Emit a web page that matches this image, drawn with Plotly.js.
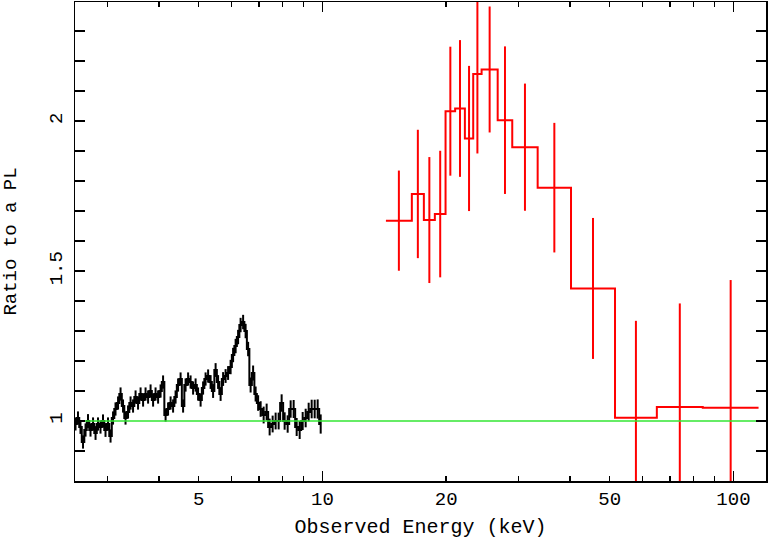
<!DOCTYPE html>
<html>
<head>
<meta charset="utf-8">
<script src="https://cdn.plot.ly/plotly-3.0.1.min.js"></script>
<style>html,body{margin:0;padding:0;background:#fff;}#chart{width:768px;height:540px;}</style>
</head>
<body>
<div id="chart"></div>
<script>
// ---- Black (soft X-ray) data: bin centres (keV), ratio, 1-sigma error
const blackE = [2.507,2.542,2.578,2.615,2.652,2.689,2.727,2.766,2.805,2.844,2.884,2.925,2.966,3.008,3.051,3.094,3.137,3.182,3.227,3.272,3.318,3.365,3.413,3.461,3.510,3.559,3.610,3.661,3.712,3.765,3.818,3.872,3.926,3.982,4.038,4.095,4.153,4.211,4.271,4.331,4.392,4.454,4.517,4.581,4.645,4.711,4.777,4.845,4.913,4.982,5.053,5.124,5.196,5.270,5.344,5.419,5.496,5.573,5.652,5.732,5.812,5.894,5.978,6.062,6.148,6.234,6.322,6.412,6.502,6.594,6.687,6.781,6.877,6.974,7.073,7.193,7.315,7.439,7.565,7.693,7.824,7.956,8.091,8.229,8.368,8.510,8.655,8.802,8.951,9.103,9.257,9.414,9.574,9.736,9.902];
const blackRatio = [0.99,1.01,0.98,0.93,0.97,1.00,0.97,0.99,0.96,0.99,0.98,1.00,0.97,0.99,0.95,1.01,1.04,1.06,1.09,1.05,1.01,1.03,1.06,1.05,1.08,1.06,1.09,1.07,1.09,1.08,1.10,1.07,1.09,1.08,1.10,1.13,1.02,1.04,1.06,1.05,1.08,1.12,1.14,1.05,1.12,1.14,1.13,1.11,1.12,1.09,1.07,1.11,1.14,1.15,1.13,1.10,1.17,1.13,1.09,1.14,1.15,1.16,1.18,1.22,1.25,1.28,1.32,1.33,1.30,1.24,1.12,1.16,1.09,1.06,1.04,1.02,1.03,0.98,0.99,1.00,1.00,1.06,1.00,0.99,1.04,1.04,0.98,0.97,1.00,1.01,1.03,1.04,1.04,1.04,0.99];
const blackErr = [0.022,0.022,0.023,0.022,0.022,0.023,0.022,0.022,0.023,0.022,0.022,0.022,0.023,0.022,0.022,0.022,0.022,0.022,0.022,0.022,0.022,0.022,0.022,0.022,0.022,0.022,0.022,0.022,0.022,0.022,0.022,0.022,0.022,0.022,0.022,0.022,0.022,0.022,0.022,0.022,0.022,0.022,0.022,0.022,0.022,0.022,0.022,0.022,0.022,0.022,0.022,0.022,0.022,0.022,0.023,0.023,0.023,0.023,0.023,0.023,0.023,0.023,0.024,0.024,0.024,0.024,0.024,0.024,0.024,0.024,0.025,0.025,0.025,0.026,0.026,0.028,0.028,0.028,0.028,0.028,0.028,0.029,0.029,0.029,0.029,0.03,0.03,0.03,0.03,0.031,0.031,0.031,0.031,0.032,0.032];

// ---- Red (hard X-ray) data: bin edges (keV), ratio, 1-sigma error
const redEdges = [14.27,16.50,17.65,18.77,19.93,21.03,22.21,23.27,24.39,26.69,28.96,33.39,40.25,51.5,65.1,84.2,115.1];
const redRatio = [1.668,1.757,1.670,1.690,2.033,2.042,1.942,2.157,2.172,2.003,1.913,1.778,1.442,1.011,1.047,1.044];
const redErr   = [0.167,0.214,0.210,0.211,0.215,0.228,0.242,0.265,0.210,0.246,0.212,0.216,0.235,0.323,0.345,0.426];

// ---- Model (ratio = 1)
const modelE = [2.5, 120];
const modelRatio = [1, 1];

// ---- Tick labels
const xTickVals = [5, 10, 20, 50, 100];
const xTickText = ['5', '10', '20', '50', '100'];
const xMinorVals = [3, 4, 6, 7, 8, 9, 30, 40, 60, 70, 80, 90];
const xMajorVals = [10, 100];
const yTickVals = [1, 1.5, 2];
const yTickText = ['1', '1.5', '2'];
const yMinorVals = [0.9, 1.1, 1.2, 1.3, 1.4, 1.6, 1.7, 1.8, 1.9, 2.1, 2.2, 2.3];

const redCentres = redRatio.map((_, i) => Math.sqrt(redEdges[i] * redEdges[i + 1]));
const redStepY = redRatio.concat([redRatio[redRatio.length - 1]]);

const FONT = 'Liberation Mono, Courier New, monospace';

const traces = [
  {
    x: blackE, y: blackRatio, type: 'scatter', mode: 'lines',
    line: {shape: 'hvh', color: 'black', width: 2},
    hoverinfo: 'skip'
  },
  {
    x: blackE, y: blackRatio, type: 'scatter', mode: 'markers',
    marker: {size: 1, color: 'black'},
    error_y: {type: 'data', array: blackErr, visible: true, color: 'black', thickness: 2, width: 0},
    hoverinfo: 'skip'
  },
  {
    x: redEdges, y: redStepY, type: 'scatter', mode: 'lines',
    line: {shape: 'hv', color: '#ff0000', width: 2},
    hoverinfo: 'skip'
  },
  {
    x: redCentres, y: redRatio, type: 'scatter', mode: 'markers',
    marker: {size: 1, color: 'rgba(0,0,0,0)'},
    error_y: {type: 'data', array: redErr, visible: true, color: '#ff0000', thickness: 2, width: 0},
    hoverinfo: 'skip'
  },
  {
    x: modelE, y: modelRatio, type: 'scatter', mode: 'lines',
    xaxis: 'x2', yaxis: 'y',
    line: {color: '#33e633', width: 1.5},
    hoverinfo: 'skip'
  }
];

const xr = [Math.log10(2.5), Math.log10(120)];

const layout = {
  width: 768, height: 540,
  margin: {l: 75, r: 2, t: 2, b: 59},
  paper_bgcolor: 'white', plot_bgcolor: 'white',
  showlegend: false,
  font: {family: FONT, color: 'black'},
  xaxis: {
    type: 'log', range: xr,
    tickmode: 'array', tickvals: xTickVals, ticktext: xTickText,
    ticks: 'inside', ticklen: 5, tickwidth: 1.5, tickcolor: 'black',
    minor: {tickmode: 'array', tickvals: xMinorVals, ticks: 'inside', ticklen: 5, tickwidth: 1.5, tickcolor: 'black', showgrid: false},
    showline: true, linecolor: 'black', linewidth: 1.5, mirror: 'allticks',
    showgrid: false, zeroline: false,
    tickfont: {family: FONT, size: 19, color: 'black'},
    title: {text: 'Observed Energy (keV)', font: {family: FONT, size: 20, color: 'black'}, standoff: 8}
  },
  xaxis2: {
    type: 'log', range: xr, overlaying: 'x', anchor: 'y', side: 'bottom',
    tickmode: 'array', tickvals: xMajorVals,
    ticks: 'inside', ticklen: 10, tickwidth: 1.5, tickcolor: 'black',
    showticklabels: false, showline: false, mirror: 'allticks',
    showgrid: false, zeroline: false
  },
  yaxis: {
    range: [0.8, 2.397],
    tickmode: 'array', tickvals: yTickVals, ticktext: yTickText,
    ticks: 'inside', ticklen: 10, tickwidth: 1.5, tickcolor: 'black',
    minor: {tickmode: 'array', tickvals: yMinorVals, ticks: 'inside', ticklen: 5, tickwidth: 1.5, tickcolor: 'black', showgrid: false},
    tickangle: -90, ticklabelstandoff: 4,
    showline: true, linecolor: 'black', linewidth: 1.5, mirror: 'allticks',
    showgrid: false, zeroline: false,
    tickfont: {family: FONT, size: 19, color: 'black'},
    title: {text: 'Ratio to a PL', font: {family: FONT, size: 19, color: 'black'}, standoff: 28}
  }
};

Plotly.newPlot('chart', traces, layout, {displayModeBar: false, staticPlot: true});
</script>
</body>
</html>
